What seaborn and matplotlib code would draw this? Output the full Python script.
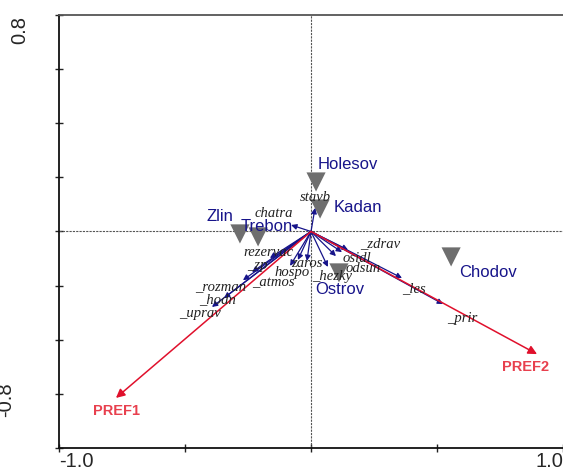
import pandas as pd
import matplotlib
matplotlib.use("Agg")
import matplotlib.pyplot as plt
import seaborn as sns

# -------------------- DATA --------------------

# sample scores (triangles)
sites = ["Holesov", "Kadan", "Zlin", "Trebon", "Ostrov", "Chodov"]
site_x = [0.020, 0.036, -0.282, -0.210, 0.111, 0.556]
site_y = [0.183, 0.083, -0.009, -0.020, -0.153, -0.094]
site_lab_x = [0.028, 0.091, -0.413, -0.278, 0.016, 0.587]
site_lab_y = [0.246, 0.087, 0.054, 0.017, -0.216, -0.153]

# species / variable arrows (navy)
vars_ = ["stavb", "chatra", "rezervac", "_zp", "_rozman", "_hodn", "_uprav",
         "_atmos", "hospo", "zaros", "_hezky", "odsun", "osidl", "_zdrav",
         "_les", "_prir"]
var_x = [0.016, -0.079, -0.163, -0.234, -0.270, -0.345, -0.393,
         -0.083, -0.052, -0.016, 0.067, 0.099, 0.123, 0.147, 0.361, 0.524]
var_y = [0.087, 0.024, -0.098, -0.150, -0.180, -0.246, -0.279,
         -0.127, -0.105, -0.109, -0.131, -0.091, -0.076, -0.068, -0.172, -0.268]
var_lab_x = [-0.045, -0.226, -0.270, -0.252, -0.460, -0.444, -0.524,
             -0.234, -0.143, -0.079, 0.006, 0.137, 0.127, 0.194, 0.361, 0.540]
var_lab_y = [0.127, 0.068, -0.076, -0.124, -0.205, -0.253, -0.303,
             -0.190, -0.150, -0.120, -0.165, -0.135, -0.100, -0.044, -0.210, -0.320]

# supplementary variables (red)
prefs = ["PREF1", "PREF2"]
pref_x = [-0.774, 0.897]
pref_y = [-0.615, -0.453]
pref_lab_x = [-0.770, 0.853]
pref_lab_y = [-0.662, -0.500]

# -------------------- PLOT --------------------

sns.set_style("ticks")
plt.rcParams["font.family"] = ["Liberation Sans", "DejaVu Sans"]

navy = "#17148a"
red = "#e0102c"

fig = plt.figure(figsize=(5.63, 4.73), dpi=100)
ax = fig.add_axes([59 / 563, 25 / 473, 504 / 563, 433 / 473])
ax.set_xlim(-1.0, 1.0)
ax.set_ylim(-0.8, 0.8)

ax.axhline(0, color="#555555", lw=0.8, ls=(0, (2, 1)), zorder=1)
ax.axvline(0, color="#555555", lw=0.8, ls=(0, (2, 1)), zorder=1)

sites_df = pd.DataFrame({"x": site_x, "y": site_y, "site": sites})
sns.scatterplot(data=sites_df, x="x", y="y", marker="v", s=190,
                color="#6e6e6e", edgecolor="none", ax=ax, zorder=2)

for name, x, y in zip(vars_, var_x, var_y):
    ax.annotate("", xy=(x, y), xytext=(0, 0),
                arrowprops=dict(arrowstyle="-|>", color=navy, lw=0.9,
                                mutation_scale=8, shrinkA=0, shrinkB=0),
                zorder=3)
for name, x, y in zip(prefs, pref_x, pref_y):
    ax.annotate("", xy=(x, y), xytext=(0, 0),
                arrowprops=dict(arrowstyle="-|>", color=red, lw=1.1,
                                mutation_scale=13, shrinkA=0, shrinkB=0),
                zorder=4)

for name, x, y in zip(sites, site_lab_x, site_lab_y):
    ax.text(x, y, name, color=navy, fontsize=12, ha="left", va="center", zorder=5)
for name, x, y in zip(vars_, var_lab_x, var_lab_y):
    ax.text(x, y, name, color="#222222", fontsize=10.5, style="italic",
            family="Liberation Serif", ha="left", va="center", zorder=5)
for name, x, y in zip(prefs, pref_lab_x, pref_lab_y):
    ax.text(x, y, name, color="#e8404e", fontsize=10.5, weight="bold",
            ha="center", va="center", zorder=5)

ax.set_xticks([-1.0, -0.5, 0.0, 0.5, 1.0])
ax.set_yticks([-0.8, -0.6, -0.4, -0.2, 0.0, 0.2, 0.4, 0.6, 0.8])
ax.set_xticklabels([])
ax.set_yticklabels([])
ax.tick_params(direction="inout", length=6, width=1, color="#222222")
ax.set_xlabel("")
ax.set_ylabel("")
for s in ["left", "bottom"]:
    ax.spines[s].set_color("#111111")
    ax.spines[s].set_linewidth(1.3)
ax.spines["top"].set_color("#555555")
ax.spines["top"].set_linewidth(1.3)
ax.spines["right"].set_visible(False)

# axis end labels as in the original
fig.text(59 / 563, 2 / 473, "-1.0", fontsize=14.5, ha="left", va="bottom")
fig.text(563 / 563, 2 / 473, "1.0", fontsize=14.5, ha="right", va="bottom")
fig.text(20 / 563, 1 - 16 / 473, "0.8", fontsize=14.5, rotation=90,
         ha="center", va="top")
fig.text(6 / 563, 1 - 400 / 473, "-0.8", fontsize=14.5, rotation=90,
         ha="center", va="center")

fig.savefig("out.png", dpi=100)
